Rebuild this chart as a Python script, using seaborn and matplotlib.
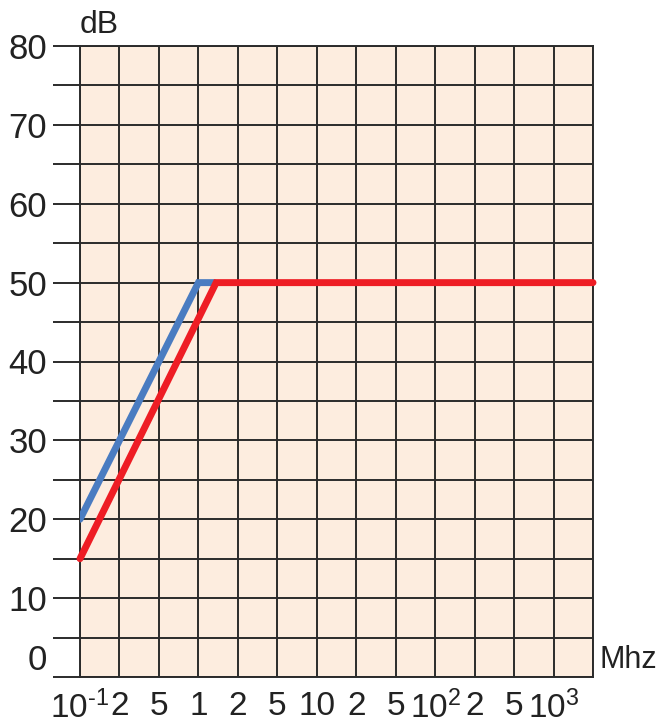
import matplotlib
matplotlib.use('Agg')
import matplotlib.pyplot as plt
import seaborn as sns
import pandas as pd

# dados (posições em colunas da grade, 0 = 10^-1)
x_labels = [r'$10^{\text{-}1}$', '2', '5', '1', '2', '5', '10', '2', '5', r'$10^{2}$', '2', '5', r'$10^{3}$', '']
blue_x = [0, 3.0, 3.4]
blue_y = [20, 50, 50]
red_x = [0, 3.45, 13]
red_y = [15, 50, 50]

sns.set_style('white')
plt.rcParams['font.family'] = ['Liberation Sans', 'DejaVu Sans']
plt.rcParams['mathtext.fontset'] = 'custom'
plt.rcParams['mathtext.rm'] = 'Liberation Sans'
plt.rcParams['mathtext.it'] = 'Liberation Sans'
plt.rcParams['mathtext.default'] = 'regular'

fig = plt.figure(figsize=(6.57, 7.24), dpi=100)
ax = fig.add_axes([80 / 657, 47 / 724, 513 / 657, 631 / 724])
ax.set_facecolor('#fdeddf')

grid_col = '#2b2b2b'
df_blue = pd.DataFrame({'x': blue_x, 'y': blue_y})
df_red = pd.DataFrame({'x': red_x, 'y': red_y})
sns.lineplot(data=df_blue, x='x', y='y', ax=ax, color='#4a7cc1', linewidth=5,
             sort=False, estimator=None, zorder=3, solid_joinstyle='miter')
sns.lineplot(data=df_red, x='x', y='y', ax=ax, color='#ee1d24', linewidth=5,
             sort=False, estimator=None, zorder=4, solid_joinstyle='miter', clip_on=False)

ax.set_xlim(0, 13)
ax.set_ylim(0, 80)
ax.set_xticks(range(14))
ax.set_xticklabels(x_labels)
ax.set_yticks(range(0, 81, 10))
ax.set_yticks(range(5, 80, 10), minor=True)
ax.grid(True, which='both', color=grid_col, linewidth=1.4, zorder=1)
ax.set_axisbelow(True)
for s in ax.spines.values():
    s.set_color(grid_col)
    s.set_linewidth(1.4)

ax.tick_params(axis='x', length=0, pad=10, labelsize=24, colors='#222222')
ax.tick_params(axis='y', which='both', left=True, length=19.5, width=1.4, color=grid_col,
               pad=4, labelsize=25, labelcolor='#222222')
ax.tick_params(axis='y', which='minor', labelleft=False)
# o "0" fica acima da linha do eixo
ax.get_yticklabels()[0].set_va('bottom')
ax.set_xlabel('')
ax.set_ylabel('')

fig.text(80 / 657, 1 - 25 / 724, 'dB', fontsize=23, color='#222222', va='center', ha='left')
fig.text(600 / 657, 1 - 660 / 724, 'Mhz', fontsize=22, color='#222222', va='center', ha='left')

fig.savefig('out.png', dpi=100)
